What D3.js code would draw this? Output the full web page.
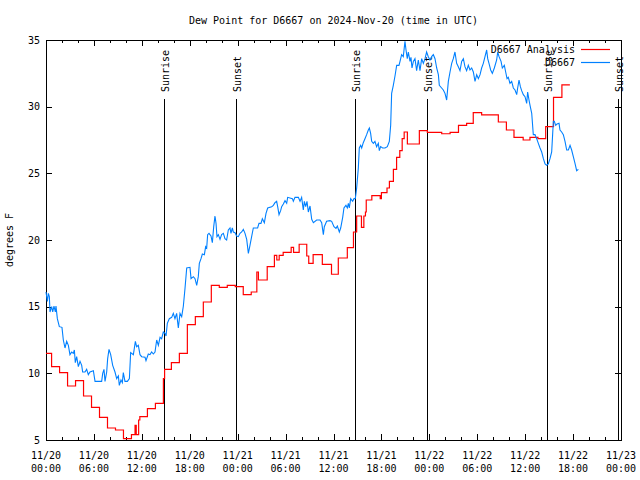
<!DOCTYPE html>
<html>
<head>
<meta charset="utf-8">
<script src="https://cdn.jsdelivr.net/npm/d3@7"></script>
<style>
  html, body { margin: 0; padding: 0; background: #fff; }
  svg { display: block; }
  text { font-family: "DejaVu Sans Mono", monospace; font-size: 10px; fill: #000; }
</style>
</head>
<body>
<svg id="chart" width="640" height="480"></svg>
<script>
// ---------------- DATA ----------------
const chartTitle = "Dew Point for D6667 on 2024-Nov-20 (time in UTC)";
const yLabel = "degrees F";
const startDate = "2024-11-20T00:00:00Z";
const yTicks = [5, 10, 15, 20, 25, 30, 35];
const seriesNames = ["D6667 Analysis", "D6667"];

// hours since 11/20 00:00 UTC
const sunEventHours = [14.8, 23.82, 38.72, 47.72, 62.74, 71.65];
const sunEventLabels = ["Sunrise", "Sunset", "Sunrise", "Sunset", "Sunrise", "Sunset"];

// D6667 Analysis (step series): time (hours) and value (F)
const analysisHours = [0,0.7,1.7,2.7,3.7,4.7,5.7,6.7,7.7,8.7,9.7,10.7,11.15,11.3,11.6,11.75,12.7,13.7,14.7,14.85,15.7,16.7,17.7,18.7,19.7,20.7,21.7,22.7,23.7,24.7,25.7,26.4,26.6,27.7,28.6,28.9,29.2,29.7,30.7,31.0,31.7,32.65,32.9,33.45,34.6,35.75,36.6,37.73,38.5,38.9,39.5,39.8,40.0,40.1,40.8,41.85,42.0,42.7,43.0,43.5,43.9,44.3,44.6,44.85,45.25,46.75,47.75,49.55,50.6,51.65,52.67,53.5,54.55,56.64,57.65,58.6,59.75,60.6,61.6,62.57,63.55,64.6,65.6];
const analysisValues = [11.5,10.5,10.05,9.05,9.45,8.3,7.45,6.7,5.9,5.75,5.1,5.4,6.1,5.4,6.5,6.75,7.35,7.75,9.6,10.3,10.8,11.5,13.65,14.25,15.35,16.6,16.45,16.6,16.5,15.9,16.1,17.6,17.0,18.0,18.85,18.5,18.85,19.07,19.45,19.07,19.68,18.8,18.25,18.9,18.17,17.43,18.65,19.43,20.6,21.8,20.95,21.8,22.1,23.0,23.33,23.1,23.55,23.9,24.4,25.3,26.2,26.7,27.6,28.1,27.2,28.2,28.07,27.97,28.07,28.6,28.75,29.55,29.38,28.85,28.25,27.7,27.5,27.7,27.6,28.5,30.7,31.63,31.63];

// D6667 observations
const obsHours = [0,0.17,0.29,0.42,0.5,0.71,0.84,1.0,1.17,1.25,1.42,1.67,2.0,2.17,2.38,2.59,2.8,3.0,3.22,3.42,3.55,3.67,3.84,4.05,4.26,4.47,4.59,4.88,5.09,5.3,5.51,5.93,6.14,6.97,7.1,7.26,7.39,7.6,7.72,7.89,8.1,8.35,8.64,8.85,9.06,9.18,9.39,9.56,9.68,9.89,10.19,10.44,10.6,10.94,11.19,11.35,11.56,11.77,11.98,12.4,12.52,12.81,13.02,13.23,13.44,13.65,13.86,14.07,14.28,14.48,14.69,14.9,15.03,15.19,15.44,15.74,15.94,16.15,16.36,16.57,16.78,16.99,17.2,17.41,17.62,18.03,
18.16,18.45,18.66,18.87,19.07,19.2,19.41,19.58,19.83,19.99,20.12,20.24,20.41,20.66,20.83,21.0,21.16,21.29,21.41,21.58,21.79,21.99,22.21,22.41,22.62,22.83,23.04,23.16,23.33,23.46,23.67,23.87,24.08,24.29,24.5,24.71,24.92,25.13,25.34,25.54,25.75,25.96,26.5,26.67,26.92,27.09,27.34,27.55,27.76,28.26,28.47,28.67,28.88,29.01,29.18,29.38,29.51,29.72,29.93,30.14,30.26,30.85,30.97,31.18,31.6,31.81,32.01,32.22,32.35,32.52,32.68,32.85,33.06,33.27,33.48,33.89,34.31,34.52,34.73,34.85,35.14,35.56,35.77,
36.06,36.31,36.48,36.73,36.9,37.15,37.31,37.56,37.73,37.86,37.98,38.15,38.4,38.57,38.73,38.9,39.11,39.23,39.4,39.53,39.73,39.94,40.15,40.36,40.49,40.65,40.78,40.99,41.19,41.4,41.61,41.74,41.9,42.15,42.45,42.74,42.99,43.16,43.28,43.49,43.7,43.91,44.2,44.33,44.53,44.74,44.95,45.08,45.24,45.37,45.58,45.7,45.83,46.0,46.2,46.41,46.62,46.83,47.04,47.25,47.46,47.66,47.87,48.08,48.29,48.5,48.71,48.92,49.13,49.25,49.54,49.75,49.96,50.17,50.38,50.59,50.8,51.0,51.21,51.42,51.63,51.84,52.05,52.26,52.46,52.67,52.88,53.09,53.3,53.51,
53.72,53.93,54.14,54.35,54.55,54.76,54.97,55.18,55.31,55.47,55.68,55.89,56.14,56.43,56.56,56.73,56.98,57.14,57.39,57.56,57.73,57.89,58.1,58.31,58.52,58.73,58.94,59.06,59.23,59.4,59.56,59.77,59.98,60.19,60.31,60.48,60.61,60.82,61.02,61.23,61.44,61.65,61.86,62.07,62.28,62.49,62.69,62.9,63.11,63.32,63.53,63.65,63.82,63.99,64.24,64.36,64.57,64.78,64.99,65.2,65.41,65.62,65.82,66.03,66.24,66.45,66.66];
const obsValues = [16.1,15.4,16.0,15.75,14.6,15.0,14.6,15.05,14.6,15.05,14.1,13.5,13.45,12.5,11.9,12.4,12.1,11.4,11.6,11.5,11.75,10.8,11.25,10.5,10.9,10.6,10.1,10.1,10.3,9.9,10.1,10.2,9.4,9.4,10.0,10.3,9.4,10.1,11.1,11.8,11.4,10.6,10.1,9.6,9.8,9.1,9.5,9.3,10.05,9.4,9.4,9.6,11.55,11.4,12.4,12.0,12.1,11.4,11.25,11.2,10.95,11.45,11.4,11.6,11.45,11.6,12.5,12.1,12.7,12.6,13.1,13.0,12.8,13.75,14.1,14.2,14.5,14.1,14.5,13.4,14.5,14.25,15.05,16.4,17.9,17.95,
17.1,17.25,17.1,16.6,17.25,18.25,18.6,18.95,18.9,19.5,19.4,20.4,20.5,20.3,19.8,21.0,21.8,21.25,20.25,20.4,20.05,20.4,20.5,20.1,20.0,20.75,20.9,20.5,20.9,20.6,20.55,20.3,20.25,20.5,20.6,20.8,20.5,20.05,19.0,19.6,20.25,20.9,20.9,21.25,21.25,21.6,21.3,22.0,22.4,22.5,22.6,22.8,22.9,22.5,21.9,22.2,22.5,22.7,22.95,22.75,23.2,23.1,22.9,23.2,23.2,22.9,23.2,22.25,22.9,22.5,22.9,22.1,22.55,21.55,21.3,21.5,21.5,21.3,20.4,21.0,21.4,21.45,21.4,
21.0,20.875,21.05,20.6,20.9,21.7,22.4,22.6,22.4,22.75,22.4,23.1,22.9,23.1,23.1,23.9,25.4,26.9,27.1,26.9,27.3,27.6,27.9,28.25,28.4,28.0,27.4,27.25,27.4,27.0,27.25,26.7,27.0,26.9,26.9,27.0,27.4,28.6,31.0,31.6,32.3,33.1,33.1,33.4,33.9,33.75,34.9,34.25,33.6,34.1,33.4,33.7,32.9,33.4,33.6,32.7,33.5,32.7,33.6,33.25,33.6,34.1,33.75,33.5,33.75,33.9,33.6,32.9,32.4,31.6,31.4,31.25,31.0,30.5,31.9,32.6,33.25,33.6,34.1,33.25,33.0,32.7,33.4,33.6,33.0,32.7,33.1,32.75,32.9,32.6,
31.9,32.4,32.1,32.4,32.9,33.25,33.75,34.25,33.6,33.25,32.75,32.5,32.9,33.5,34.1,33.75,33.4,32.9,33.1,32.6,32.1,32.2,31.75,31.9,31.4,31.25,30.9,31.4,32.0,31.5,31.2,30.9,30.75,30.25,31.1,30.5,30.1,29.5,27.9,27.9,27.6,27.25,26.9,26.6,26.1,25.7,25.6,25.7,26.1,26.6,28.9,28.9,28.6,28.7,28.75,28.25,28.1,27.9,27.4,26.75,26.75,27.1,26.75,26.25,25.75,25.2,25.3];

// ---------------- CHART ----------------
(function () {
const pL = 46, pR = 621, pT = 40, pB = 440;
const t0 = new Date(startDate).getTime();
const toDate = h => new Date(t0 + h * 3600e3);

const svg = d3.select("#chart");
const x = d3.scaleUtc().domain([toDate(0), toDate(72)]).range([pL, pR]);
const y = d3.scaleLinear().domain([5, 35]).range([pB, pT]);

const majorTicks = d3.utcHour.every(6).range(toDate(0), toDate(72.01));
const minorTicks = d3.utcHour.every(2).range(toDate(0), toDate(72.01));

function styleAxis(g) {
  g.select(".domain").remove();
  g.selectAll("line").attr("stroke", "#000").attr("shape-rendering", "crispEdges");
}

svg.append("g").attr("transform", `translate(0,${pB})`)
  .call(d3.axisBottom(x).tickValues(minorTicks).tickSize(-3).tickFormat(""))
  .call(styleAxis);
svg.append("g").attr("transform", `translate(0,${pB})`)
  .call(d3.axisBottom(x).tickValues(majorTicks).tickSize(-6).tickFormat(""))
  .call(styleAxis);
svg.append("g").attr("transform", `translate(0,${pT})`)
  .call(d3.axisTop(x).tickValues(minorTicks).tickSize(-3).tickFormat(""))
  .call(styleAxis);
svg.append("g").attr("transform", `translate(0,${pT})`)
  .call(d3.axisTop(x).tickValues(majorTicks).tickSize(-6).tickFormat(""))
  .call(styleAxis);

const fmtDay = d3.utcFormat("%m/%d"), fmtTime = d3.utcFormat("%H:%M");
const xl = svg.append("g");
majorTicks.forEach(d => {
  const t = xl.append("text").attr("text-anchor", "middle");
  t.append("tspan").attr("x", x(d)).attr("y", 459).text(fmtDay(d));
  t.append("tspan").attr("x", x(d)).attr("y", 472).text(fmtTime(d));
});

svg.append("g").attr("transform", `translate(${pL},0)`)
  .call(d3.axisLeft(y).tickValues(yTicks).tickSize(-6).tickPadding(6).tickFormat(d3.format("d")))
  .call(styleAxis)
  .call(g => g.selectAll("text").attr("font-family", "DejaVu Sans Mono").attr("font-size", 10).attr("fill", "#000"));
svg.append("g").attr("transform", `translate(${pR},0)`)
  .call(d3.axisRight(y).tickValues(yTicks).tickSize(-6).tickFormat(""))
  .call(styleAxis);

svg.append("rect")
  .attr("x", pL + 0.5).attr("y", pT + 0.5)
  .attr("width", pR - pL).attr("height", pB - pT)
  .attr("fill", "none").attr("stroke", "#000").attr("shape-rendering", "crispEdges");

sunEventHours.forEach((h, i) => {
  const xx = Math.round(x(toDate(h))) + 0.5;
  svg.append("line").attr("x1", xx).attr("x2", xx).attr("y1", 99).attr("y2", pB)
    .attr("stroke", "#000").attr("stroke-width", 1).attr("shape-rendering", "crispEdges");
  svg.append("text")
    .attr("transform", `translate(${xx + 4},92) rotate(-90)`)
    .attr("text-anchor", "start")
    .text(sunEventLabels[i]);
});

const redData = analysisHours.map((h, i) => [toDate(h), analysisValues[i]]);
const blueData = obsHours.map((h, i) => [toDate(h), obsValues[i]]);

svg.append("path").datum(redData)
  .attr("fill", "none").attr("stroke", "#ff0000").attr("stroke-width", 1.2)
  .attr("d", d3.line().x(d => x(d[0])).y(d => y(d[1])).curve(d3.curveStepAfter));

svg.append("path").datum(blueData)
  .attr("fill", "none").attr("stroke", "#0080ff").attr("stroke-width", 1.1)
  .attr("d", d3.line().x(d => x(d[0])).y(d => y(d[1])));

const legendColors = ["#ff0000", "#0080ff"];
seriesNames.forEach((name, i) => {
  const ly = 49.5 + i * 13;
  svg.append("text").attr("x", 575).attr("y", ly + 3.5).attr("text-anchor", "end").text(name);
  svg.append("line").attr("x1", 581).attr("x2", 610).attr("y1", ly).attr("y2", ly)
    .attr("stroke", legendColors[i]).attr("stroke-width", 1.2);
});

svg.append("text").attr("x", (pL + pR) / 2).attr("y", 23.5)
  .attr("text-anchor", "middle").text(chartTitle);
svg.append("text").attr("transform", `translate(13,240) rotate(-90)`)
  .attr("text-anchor", "middle").text(yLabel);
})();
</script>
</body>
</html>
